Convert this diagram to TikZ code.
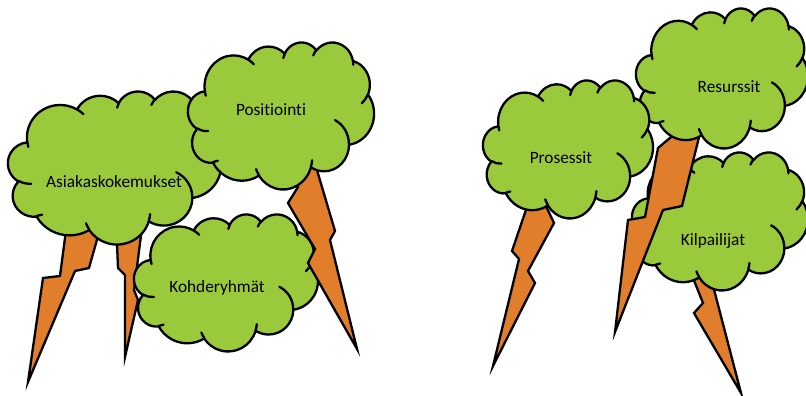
\documentclass[tikz,border=0pt]{standalone}
\usepackage{fontspec}
\setmainfont{Carlito}[Ligatures=NoCommon]
\definecolor{leafgreen}{HTML}{9ACA3C}
\definecolor{boltorange}{HTML}{E07E2C}

% One arc of the cloud outline: x radius, y radius, start angle and sweep,
% both angles measured as seen on the ellipse (converted to parametric angles).
\newcommand\ooarc[4]{arc[start angle={atan2(sin(#3)/#2,cos(#3)/#1)},
  end angle={atan2(sin(#3)/#2,cos(#3)/#1)+mod(atan2(sin(#3+#4)/#2,cos(#3+#4)/#1)-atan2(sin(#3)/#2,cos(#3)/#1)+720,360)},
  x radius=#1pt, y radius=#2pt]}

% A cloud filling the box with top-left corner (#1,#2), width #3, height #4
\newcommand\puffcloud[4]{%
  \begin{scope}[shift={(#1,#2)}, xscale=#3/43.2, yscale=#4/43.2]
    \path[cloudbody] (3.900,14.370)
      \ooarc{6.753}{9.190}{-190.48748}{123.78053}
      \ooarc{5.333}{7.267}{-144.10238}{89.94523}
      \ooarc{4.365}{5.945}{-145.80792}{99.72302}
      \ooarc{4.857}{6.595}{-130.98607}{117.24173}
      \ooarc{5.333}{7.273}{-78.70888}{109.02692}
      \ooarc{6.775}{9.220}{-46.26725}{130.26900}
      \ooarc{5.785}{7.867}{0.62502}{114.03333}
      \ooarc{6.752}{9.215}{22.45160}{115.17255}
      \ooarc{7.720}{10.543}{66.24263}{75.71102}
      \ooarc{4.360}{5.918}{-274.94208}{146.73557}
      \ooarc{4.345}{5.945}{-246.82850}{152.51885}
      -- cycle;
    \path[crease]
      (4.693,26.177) \ooarc{4.345}{5.945}{86.74200}{26.42950}
      (6.928,34.899) \ooarc{4.360}{5.918}{73.61047}{11.44747}
      (16.478,39.090) \ooarc{6.752}{9.215}{137.62415}{14.08110}
      (28.827,34.751) \ooarc{6.752}{9.215}{6.45327}{15.99835}
      (34.129,22.954) \ooarc{5.785}{7.867}{-70.29235}{70.91737}
      (41.798,15.354) \ooarc{5.333}{7.273}{30.31803}{27.75150}
      (38.324,5.426) \ooarc{4.857}{6.595}{-13.74433}{14.85890}
      (29.078,3.952) \ooarc{4.857}{6.595}{-149.18145}{18.19537}
      (22.141,4.720) \ooarc{4.365}{5.945}{-163.49427}{17.68635}
      (14.000,5.192) \ooarc{6.753}{9.190}{-66.70695}{12.31935}
      (4.127,15.789) \ooarc{6.753}{9.190}{157.65435}{11.85817};
  \end{scope}}

\begin{document}
\begin{tikzpicture}[x=1pt, y=1pt, yscale=-1,
  cloudbody/.style={fill=leafgreen, draw=black, line width=2.3pt, line join=round},
  crease/.style={draw=black, line width=2.3pt, line cap=round},
  bolt/.style={fill=boltorange, draw=black, line width=2.3pt, line join=miter},
  cloudtext/.style={font=\fontsize{17.3}{20}\selectfont, text=black, inner sep=0pt}]
  \useasboundingbox (0,0) rectangle (806,396);

  % left group
  \filldraw[bolt] (68,215) -- (104,215) -- (89,268) -- (75,271) -- (28,382)
    -- (43,278) -- (60,276) -- cycle;
  \filldraw[bolt] (116,220) -- (118,268) -- (125,275) -- (125,357)
    -- (138,300) -- (134,290) -- (143,220) -- cycle;
  \puffcloud{134}{214}{184}{137}
  \filldraw[bolt] (291,160) -- (298,187) -- (288,203) -- (315,249) -- (308,263)
    -- (357,349) -- (330,240) -- (335,231) -- (314,160) -- cycle;
  \puffcloud{8}{91}{213}{153}
  \puffcloud{188}{42}{186}{147}

  % right group
  \filldraw[bolt] (693,278) -- (703,303) -- (694,313) -- (741,393) -- (711,278) -- cycle;
  \puffcloud{632}{152}{176}{138}
  \filldraw[bolt] (680,118) -- (677,132) -- (658,148) -- (645,217) -- (628,220)
    -- (615,332) -- (663,210) -- (682,206) -- (702,125) -- cycle;
  \puffcloud{636}{8}{172}{140}
  \filldraw[bolt] (533,185) -- (544,202) -- (554,223) -- (528,271) -- (535,283)
    -- (493,366) -- (519,259) -- (512,251) -- (530,198) -- cycle;
  \puffcloud{483}{80}{170}{138}

  \node[cloudtext] (asiakas) at (114,182) {Asiakaskokemukset};
  \node[cloudtext] (positiointi) at (271,110) {Positiointi};
  \node[cloudtext] (kohde) at (217,288) {Kohderyhmät};
  \node[cloudtext] (prosessit) at (561,158) {Prosessit};
  \node[cloudtext] (resurssit) at (729,87) {Resurssit};
  \node[cloudtext] (kilpailijat) at (713,241) {Kilpailijat};
\end{tikzpicture}
\end{document}
